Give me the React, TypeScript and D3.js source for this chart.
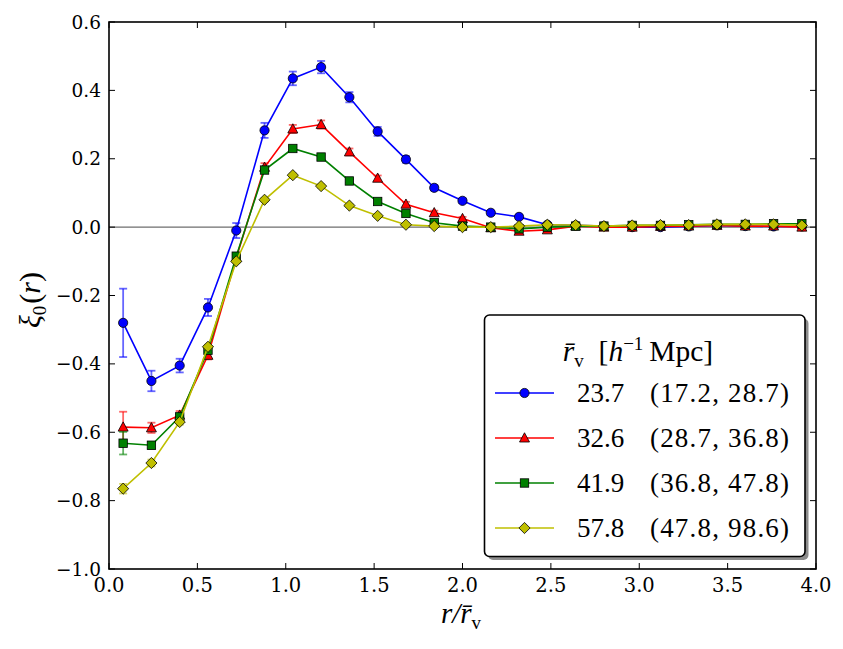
import React from "react";
import * as d3 from "d3";

const rBins = [0.08, 0.24, 0.40, 0.56, 0.72, 0.88, 1.04, 1.20, 1.36, 1.52, 1.68, 1.84, 2.00, 2.16, 2.32, 2.48, 2.64, 2.80, 2.96, 3.12, 3.28, 3.44, 3.60, 3.76, 3.92];

const blueVals = [-0.28, -0.45, -0.405, -0.235, -0.01, 0.283, 0.435, 0.468, 0.38, 0.28, 0.198, 0.115, 0.077, 0.042, 0.03, 0.007, 0.005, 0.003, 0.0, 0.0, 0.002, 0.005, 0.003, 0.002, 0.002];
const blueErr = [0.10, 0.03, 0.02, 0.025, 0.022, 0.022, 0.02, 0.018, 0.015, 0.013, 0.01, 0.008, 0.007, 0.006, 0.006, 0.005, 0.005, 0.005, 0.005, 0.005, 0.005, 0.005, 0.005, 0.005, 0.005];

const redVals = [-0.585, -0.587, -0.55, -0.375, -0.09, 0.175, 0.287, 0.30, 0.22, 0.143, 0.067, 0.042, 0.025, -0.002, -0.012, -0.008, 0.003, 0.0, 0.0, 0.002, 0.003, 0.005, 0.003, 0.003, 0.0];
const redErr = [0.045, 0.015, 0.012, 0.012, 0.01, 0.012, 0.012, 0.012, 0.01, 0.008, 0.007, 0.006, 0.005, 0.005, 0.005, 0.004, 0.004, 0.004, 0.004, 0.004, 0.004, 0.004, 0.004, 0.004, 0.004];

const greenVals = [-0.632, -0.638, -0.555, -0.36, -0.085, 0.167, 0.23, 0.205, 0.135, 0.075, 0.04, 0.013, 0.003, 0.0, -0.005, 0.0, 0.003, 0.003, 0.005, 0.005, 0.007, 0.008, 0.008, 0.01, 0.01];
const greenErr = [0.033, 0.01, 0.01, 0.008, 0.007, 0.007, 0.006, 0.006, 0.005, 0.005, 0.004, 0.004, 0.004, 0.003, 0.003, 0.003, 0.003, 0.003, 0.003, 0.003, 0.003, 0.003, 0.003, 0.003, 0.003];

const yellowVals = [-0.765, -0.69, -0.57, -0.35, -0.10, 0.08, 0.152, 0.12, 0.063, 0.033, 0.007, 0.003, 0.0, 0.0, 0.003, 0.007, 0.006, 0.003, 0.005, 0.006, 0.006, 0.008, 0.008, 0.008, 0.005];
const yellowErr = [0.014, 0.01, 0.008, 0.006, 0.005, 0.005, 0.005, 0.005, 0.004, 0.004, 0.003, 0.003, 0.003, 0.003, 0.003, 0.003, 0.003, 0.003, 0.003, 0.003, 0.003, 0.003, 0.003, 0.003, 0.003];

const seriesMeans = ["23.7", "32.6", "41.9", "57.8"];
const seriesRanges = ["(17.2, 28.7)", "(28.7, 36.8)", "(36.8, 47.8)", "(47.8, 98.6)"];
const seriesColors = ["#0000ff", "#ff0000", "#008000", "#bfbf00"];
const seriesMarkers = ["circle", "triangle", "square", "diamond"];

const xTicks = [0.0, 0.5, 1.0, 1.5, 2.0, 2.5, 3.0, 3.5, 4.0];
const yTicks = [-1.0, -0.8, -0.6, -0.4, -0.2, 0.0, 0.2, 0.4, 0.6];

const W = 843, H = 649;
const L = 109, R = 816, T = 22, B = 569;

function Marker({ type, x, y, color }: { type: string; x: number; y: number; color: string }) {
  const st = { fill: color, stroke: "#000", strokeWidth: 0.8 };
  if (type === "circle") return <circle cx={x} cy={y} r={4.6} {...st} />;
  if (type === "square") return <rect x={x - 4.2} y={y - 4.2} width={8.4} height={8.4} {...st} />;
  if (type === "triangle") {
    const s = 5;
    return <path d={`M${x},${y - s * 1.05}L${x + s},${y + s * 0.8}L${x - s},${y + s * 0.8}Z`} {...st} />;
  }
  const s = 5.6;
  return <path d={`M${x},${y - s}L${x + s},${y}L${x},${y + s}L${x - s},${y}Z`} {...st} />;
}

const tickFont = "'DejaVu Serif', serif";
const cmFont = "'Liberation Serif', serif";

export default function App() {
  const x = d3.scaleLinear().domain([0, 4]).range([L, R]);
  const y = d3.scaleLinear().domain([-1.0, 0.6]).range([B, T]);
  const series = [
    { v: blueVals, e: blueErr },
    { v: redVals, e: redErr },
    { v: greenVals, e: greenErr },
    { v: yellowVals, e: yellowErr },
  ];
  const line = d3.line<number>().x((_, i) => x(rBins[i])).y((d) => y(d));
  const tickLen = 6;

  const legX = 484.5, legY = 315, legW = 320.5, legH = 241.5;
  const rowY = [393, 438, 483, 528];

  return (
    <svg width={W} height={H} style={{ position: "absolute", left: 0, top: 0, background: "#fff" }}>
      <rect x={0} y={0} width={W} height={H} fill="#fff" />
      <line x1={L} x2={R} y1={y(0)} y2={y(0)} stroke="#6e6e6e" strokeWidth={1.4} />
      {series.map((s, si) => (
        <g key={si}>
          <path d={line(s.v) || ""} fill="none" stroke={seriesColors[si]} strokeWidth={1.6} />
          {s.v.map((v, i) => {
            const cx = x(rBins[i]);
            const y1 = y(v - s.e[i]);
            const y2 = y(v + s.e[i]);
            return (
              <g key={i} stroke={seriesColors[si]} strokeOpacity={0.6} strokeWidth={1.8}>
                <line x1={cx} x2={cx} y1={y1} y2={y2} />
                <line x1={cx - 4} x2={cx + 4} y1={y1} y2={y1} />
                <line x1={cx - 4} x2={cx + 4} y1={y2} y2={y2} />
              </g>
            );
          })}
          {s.v.map((v, i) => (
            <Marker key={"m" + i} type={seriesMarkers[si]} x={x(rBins[i])} y={y(v)} color={seriesColors[si]} />
          ))}
        </g>
      ))}
      <rect x={L} y={T} width={R - L} height={B - T} fill="none" stroke="#000" strokeWidth={1.6} />
      {xTicks.map((t, i) => (
        <g key={"xt" + i}>
          <line x1={x(t)} x2={x(t)} y1={B} y2={B - tickLen} stroke="#000" strokeWidth={1} />
          <line x1={x(t)} x2={x(t)} y1={T} y2={T + tickLen} stroke="#000" strokeWidth={1} />
          <text x={x(t)} y={592} textAnchor="middle" fontFamily={tickFont} fontSize={19.5} fill="#000">
            {d3.format(".1f")(t)}
          </text>
        </g>
      ))}
      {yTicks.map((t, i) => (
        <g key={"yt" + i}>
          <line x1={L} x2={L + tickLen} y1={y(t)} y2={y(t)} stroke="#000" strokeWidth={1} />
          <line x1={R} x2={R - tickLen} y1={y(t)} y2={y(t)} stroke="#000" strokeWidth={1} />
          <text x={101} y={y(t) + 6.5} textAnchor="end" fontFamily={tickFont} fontSize={18.5} fill="#000">
            {d3.format(".1f")(t).replace("-", "\u2212")}
          </text>
        </g>
      ))}
      <text x={461} y={623} textAnchor="middle" fontFamily={cmFont} fontSize={29} fill="#000">
        <tspan fontStyle="italic">r/r{"\u0304"}</tspan>
        <tspan fontSize={19} dy={6}>v</tspan>
      </text>
      <g transform="translate(40,300) rotate(-90)">
        <text x={0} y={0} textAnchor="middle" fontFamily={cmFont} fontSize={30} fill="#000">
          <tspan fontStyle="italic">{"\u03be"}</tspan>
          <tspan fontSize={19} dy={6}>0</tspan>
          <tspan dy={-6} dx={2}>(</tspan>
          <tspan fontStyle="italic">r</tspan>
          <tspan>)</tspan>
        </text>
      </g>
      <rect x={legX + 3.5} y={legY + 3.5} width={legW} height={legH} rx={5} fill="#8c8c8c" />
      <rect x={legX} y={legY} width={legW} height={legH} rx={5} fill="#fff" stroke="#000" strokeWidth={1.6} />
      <text x={638} y={361} textAnchor="middle" fontFamily={cmFont} fontSize={29.5} fill="#000">
        <tspan fontStyle="italic">r{"\u0304"}</tspan>
        <tspan fontSize={19} dy={6}>v</tspan>
        <tspan dy={-6}>{"\u2002["}</tspan>
        <tspan fontStyle="italic">h</tspan>
        <tspan fontSize={19} dy={-11}>{"\u22121"}</tspan>
        <tspan dy={11}>{"\u2009Mpc]"}</tspan>
      </text>
      {seriesMeans.map((m, i) => (
        <g key={"leg" + i}>
          <line x1={495} x2={554} y1={rowY[i]} y2={rowY[i]} stroke={seriesColors[i]} strokeWidth={1.6} />
          <Marker type={seriesMarkers[i]} x={524.5} y={rowY[i]} color={seriesColors[i]} />
          <text x={577} y={rowY[i] + 9} fontFamily={cmFont} fontSize={27} fill="#000">{m}</text>
          <text x={650} y={rowY[i] + 9} fontFamily={cmFont} fontSize={27} fill="#000" textLength={139} lengthAdjust="spacing">{seriesRanges[i]}</text>
        </g>
      ))}
    </svg>
  );
}
